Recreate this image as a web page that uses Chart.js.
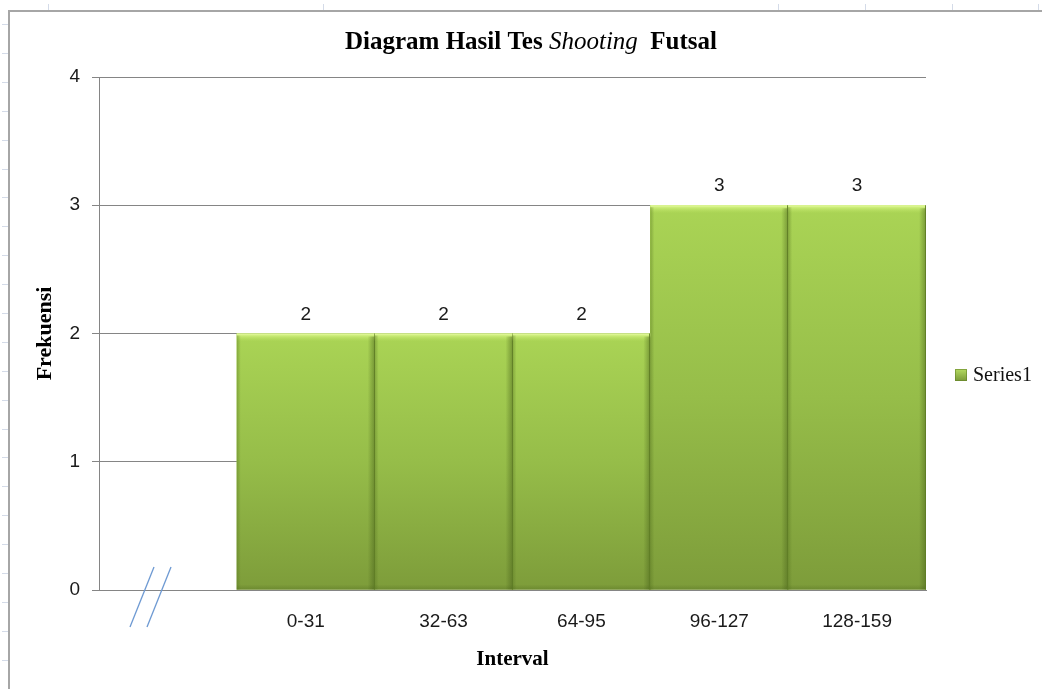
<!DOCTYPE html>
<html><head><meta charset="utf-8">
<script src="https://cdn.jsdelivr.net/npm/chart.js@4.4.0/dist/chart.umd.min.js"></script>
<style>html,body{margin:0;padding:0;background:#fff;overflow:hidden}#wrap{width:1042px;height:689px;position:relative}canvas{display:block}</style>
</head><body><div id="wrap"><canvas id="c" width="1042" height="689"></canvas></div>
<script>
// ---- data ----
const categories = ['', '0-31', '32-63', '64-95', '96-127', '128-159'];
const frequencies = [null, 2, 2, 2, 3, 3];
const yTickValues = [0, 1, 2, 3, 4];
const seriesName = 'Series1';
const titleParts = [['Diagram Hasil Tes ', false], ['Shooting', true], ['  Futsal', false]];
const xTitle = 'Interval';
const yTitle = 'Frekuensi';

const SERIF = '"Liberation Serif", "Times New Roman", serif';
const SANS = '"Liberation Sans", Arial, sans-serif';
const GRID = '#858585';

function barFill(ctx) {
  const chart = ctx.chart;
  const ca = chart.chartArea;
  if (!ca || ctx.type !== 'data' || ctx.raw == null) return '#98c248';
  const ys = chart.scales.y;
  const top = ys.getPixelForValue(ctx.raw);
  const bot = ys.getPixelForValue(0);
  const g = chart.ctx.createLinearGradient(0, top, 0, bot);
  g.addColorStop(0, '#aad455');
  g.addColorStop(0.5, '#96bd49');
  g.addColorStop(1, '#7d9c3a');
  return g;
}

const decor = {
  id: 'decor',
  beforeDraw(chart) {
    const c = chart.ctx;
    c.save();
    c.fillStyle = '#fff';
    c.fillRect(0, 0, chart.width, chart.height);
    c.strokeStyle = '#d4dbe8';
    c.lineWidth = 1;
    [48, 323, 778, 865, 952, 1038].forEach(x => { c.beginPath(); c.moveTo(x + 0.5, 4); c.lineTo(x + 0.5, 10); c.stroke(); });
    for (let y = 24; y < chart.height; y += 28.9) { c.beginPath(); c.moveTo(2, Math.round(y) + 0.5); c.lineTo(8, Math.round(y) + 0.5); c.stroke(); }
    c.strokeStyle = '#a6a6a6';
    c.lineWidth = 2;
    c.beginPath(); c.moveTo(9, chart.height + 2); c.lineTo(9, 11); c.lineTo(chart.width + 2, 11); c.stroke();
    c.restore();
  }
};

const bevel = {
  id: 'bevel',
  afterDatasetsDraw(chart) {
    const c = chart.ctx;
    const meta = chart.getDatasetMeta(0);
    meta.data.forEach((bar, i) => {
      if (frequencies[i] == null) return;
      const p = bar.getProps(['x', 'y', 'base', 'width'], true);
      const l = p.x - p.width / 2, r = p.x + p.width / 2, t = p.y, b = p.base, w = p.width;
      c.save();
      let g = c.createLinearGradient(0, t, 0, t + 8);
      g.addColorStop(0, 'rgba(236,255,170,1)');
      g.addColorStop(0.3, 'rgba(208,240,125,0.8)');
      g.addColorStop(1, 'rgba(185,225,95,0)');
      c.fillStyle = g;
      c.fillRect(l, t, w, 8);
      g = c.createLinearGradient(r - 7, 0, r, 0);
      g.addColorStop(0, 'rgba(70,95,25,0)');
      g.addColorStop(1, 'rgba(70,95,25,0.5)');
      c.fillStyle = g;
      c.fillRect(r - 7, t + 3, 7, b - t - 3);
      g = c.createLinearGradient(l, 0, l + 4, 0);
      g.addColorStop(0, 'rgba(90,120,35,0.45)');
      g.addColorStop(1, 'rgba(90,120,35,0)');
      c.fillStyle = g;
      c.fillRect(l, t + 2, 4, b - t - 2);
      g = c.createLinearGradient(0, b - 5, 0, b);
      g.addColorStop(0, 'rgba(70,95,25,0)');
      g.addColorStop(1, 'rgba(70,95,25,0.3)');
      c.fillStyle = g;
      c.fillRect(l, b - 5, w, 5);
      c.strokeStyle = 'rgba(95,125,38,0.9)';
      c.lineWidth = 1;
      c.beginPath(); c.moveTo(Math.round(r) - 0.5, t); c.lineTo(Math.round(r) - 0.5, b); c.stroke();
      c.restore();
    });
  },
  afterDraw(chart) {
    const c = chart.ctx;
    const meta = chart.getDatasetMeta(0);
    c.save();
    c.font = '19px ' + SANS;
    c.fillStyle = '#1a1a1a';
    c.textAlign = 'center';
    c.textBaseline = 'middle';
    meta.data.forEach((bar, i) => {
      if (frequencies[i] == null) return;
      c.fillText(String(frequencies[i]), bar.x, bar.y - 19);
    });
    const ca = chart.chartArea;
    const fonts = titleParts.map(([, it]) => it ? 'italic 25px ' + SERIF : 'bold 25px ' + SERIF);
    let total = 0;
    const widths = titleParts.map(([txt], k) => { c.font = fonts[k]; const m = c.measureText(txt).width; total += m; return m; });
    let x = 531 - total / 2;
    c.textAlign = 'left';
    c.textBaseline = 'alphabetic';
    c.fillStyle = '#000';
    titleParts.forEach(([txt], k) => { c.font = fonts[k]; c.fillText(txt, x, 49); x += widths[k]; });
    const lx = ca.right + 29, ly = 369;
    let g = c.createLinearGradient(0, ly, 0, ly + 12);
    g.addColorStop(0, '#b5dc62'); g.addColorStop(1, '#7a9a38');
    c.fillStyle = g;
    c.fillRect(lx, ly, 12, 12);
    c.strokeStyle = 'rgba(100,130,40,0.6)'; c.lineWidth = 1;
    c.strokeRect(lx + 0.5, ly + 0.5, 11, 11);
    c.fillStyle = '#111';
    c.font = '20px ' + SERIF;
    c.textBaseline = 'middle';
    c.fillText(chart.data.datasets[0].label, lx + 18, ly + 7);
    const ys = chart.scales.y;
    const bx = ca.left + 52, by = ys.getPixelForValue(0) + 7;
    c.strokeStyle = '#6c98d2';
    c.lineWidth = 1.3;
    [-9, 8].forEach(dx => {
      c.beginPath();
      c.moveTo(bx + dx - 12, by + 30);
      c.lineTo(bx + dx + 12, by - 30);
      c.stroke();
    });
    c.restore();
  }
};

new Chart(document.getElementById('c'), {
  type: 'bar',
  data: {
    labels: categories,
    datasets: [{
      label: seriesName,
      data: frequencies,
      backgroundColor: barFill,
      borderWidth: 0,
      categoryPercentage: 1.0,
      barPercentage: 1.0
    }]
  },
  options: {
    responsive: false,
    animation: false,
    devicePixelRatio: 1,
    layout: { padding: { top: 77, right: 116, bottom: 0, left: 0 } },
    plugins: { legend: { display: false }, title: { display: false }, tooltip: { enabled: false } },
    scales: {
      x: {
        grid: { display: false, drawTicks: false },
        border: { display: true, color: GRID, width: 1 },
        ticks: { color: '#1a1a1a', font: { size: 19, family: SANS }, padding: 20, maxRotation: 0, autoSkip: false },
        title: { display: true, text: xTitle, color: '#000', font: { size: 21, weight: 'bold', family: SERIF }, padding: { top: 0, bottom: 17 } },
        afterFit(s) { s.height = 99; }
      },
      y: {
        min: 0, max: 4,
        afterBuildTicks(s) { s.ticks = yTickValues.map(v => ({ value: v })); },
        grid: { color: GRID, lineWidth: 1, tickLength: 7, drawTicks: true },
        border: { display: true, color: GRID, width: 1 },
        ticks: { color: '#1a1a1a', font: { size: 19, family: SANS }, padding: 12 },
        title: { display: true, text: yTitle, color: '#000', font: { size: 22, weight: 'bold', family: SERIF }, padding: { top: 32, bottom: 0 } },
        afterFit(s) { s.width = 99; }
      }
    }
  },
  plugins: [decor, bevel]
});
</script>
</body></html>
